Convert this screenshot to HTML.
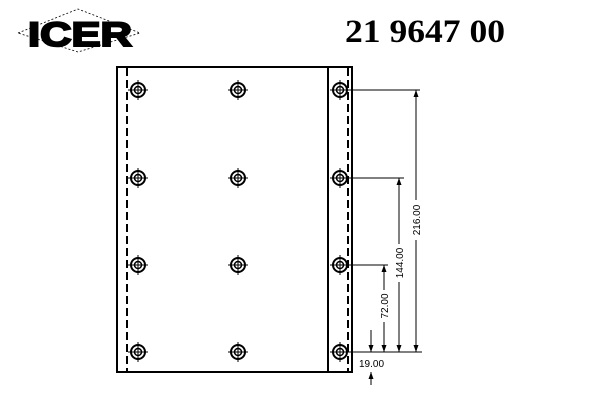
<!DOCTYPE html>
<html><head><style>body{margin:0;background:#fff}</style></head><body>
<svg width="600" height="400" viewBox="0 0 600 400" xmlns="http://www.w3.org/2000/svg">
<defs>
<g id="h"><circle r="7" fill="none" stroke="#000" stroke-width="2"/><circle r="3.5" fill="none" stroke="#000" stroke-width="1.5"/><line x1="-10" y1="0" x2="10" y2="0" stroke="#000"/><line x1="0" y1="-10" x2="0" y2="10" stroke="#000"/></g>
<path id="ad" d="M-2.5,-7 L2.5,-7 L0,0 Z" fill="#000"/>
<path id="au" d="M-2.5,7 L2.5,7 L0,0 Z" fill="#000"/>
</defs>
<polygon points="18,33 78,9 140,33 78,52" fill="none" stroke="#000" stroke-dasharray="2,2" stroke-width="0.8"/>
<text x="80" y="46" font-family="Liberation Sans" font-weight="900" font-size="34" stroke="#000" stroke-width="2" text-anchor="middle" textLength="104" lengthAdjust="spacingAndGlyphs">ICER</text>
<text x="425" y="42" font-family="Liberation Serif" font-weight="bold" font-size="33" text-anchor="middle" textLength="160" lengthAdjust="spacingAndGlyphs">21 9647 00</text>
<rect x="117" y="67" width="235" height="305" fill="none" stroke="#000" stroke-width="2"/>
<line x1="328" y1="67" x2="328" y2="372" stroke="#000" stroke-width="2"/>
<line x1="127" y1="68" x2="127" y2="371" stroke="#000" stroke-width="2" stroke-dasharray="8,4"/>
<line x1="348" y1="68" x2="348" y2="371" stroke="#000" stroke-width="2" stroke-dasharray="8,4"/>
<g>
<use href="#h" x="138" y="90"/><use href="#h" x="238" y="90"/><use href="#h" x="340" y="90"/>
<use href="#h" x="138" y="178"/><use href="#h" x="238" y="178"/><use href="#h" x="340" y="178"/>
<use href="#h" x="138" y="265"/><use href="#h" x="238" y="265"/><use href="#h" x="340" y="265"/>
<use href="#h" x="138" y="352"/><use href="#h" x="238" y="352"/><use href="#h" x="340" y="352"/>
</g>
<g stroke="#000" stroke-width="1">
<line x1="350" y1="90" x2="420" y2="90"/>
<line x1="350" y1="178" x2="404" y2="178"/>
<line x1="350" y1="265" x2="388" y2="265"/>
<line x1="350" y1="352" x2="422" y2="352"/>
<line x1="416" y1="90" x2="416" y2="352"/>
<line x1="399" y1="178" x2="399" y2="352"/>
<line x1="384" y1="265" x2="384" y2="352"/>
<line x1="371" y1="330" x2="371" y2="352"/>
<line x1="371" y1="372" x2="371" y2="385"/>
</g>
<use href="#au" x="416" y="90"/><use href="#ad" x="416" y="352"/>
<use href="#au" x="399" y="178"/><use href="#ad" x="399" y="352"/>
<use href="#au" x="384" y="265"/><use href="#ad" x="384" y="352"/>
<use href="#ad" x="371" y="352"/><use href="#au" x="371" y="372"/>
<g font-family="Liberation Sans" font-size="10">
<rect x="377" y="290" width="14" height="32" fill="#fff"/>
<text transform="translate(388,306) rotate(-90)" text-anchor="middle">72.00</text>
<rect x="393" y="244" width="14" height="38" fill="#fff"/>
<text transform="translate(403,263) rotate(-90)" text-anchor="middle">144.00</text>
<rect x="409" y="200" width="14" height="40" fill="#fff"/>
<text transform="translate(420,220) rotate(-90)" text-anchor="middle">216.00</text>
<text x="359" y="367">19.00</text>
</g>
</svg>
</body></html>
